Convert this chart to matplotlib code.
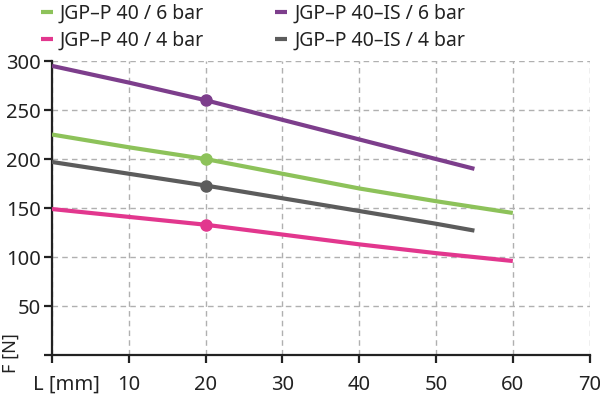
import matplotlib
matplotlib.use("Agg")
import matplotlib.pyplot as plt

x_long = [0, 10, 20, 30, 40, 50, 60]
x_short = [0, 10, 20, 30, 40, 50, 55]

green_6bar = [225, 212, 200, 185, 170, 157, 145]
pink_4bar = [149, 141, 133, 123, 113, 104, 96]
purple_is_6bar = [295, 278, 260, 240, 220, 200, 190]
gray_is_4bar = [197, 185, 173, 160, 147, 134, 127]

marker_x = 20
labels = ["JGP–P 40 / 6 bar", "JGP–P 40 / 4 bar", "JGP–P 40–IS / 6 bar", "JGP–P 40–IS / 4 bar"]
colors = ["#8dc25a", "#e2378e", "#7d3e8c", "#5c5c5c"]

xticks = [0, 10, 20, 30, 40, 50, 60, 70]
xticklabels = ["", "10", "20", "30", "40", "50", "60", "70"]
yticks = [0, 50, 100, 150, 200, 250, 300]
yticklabels = ["", "50", "100", "150", "200", "250", "300"]
x_axis_label = "L [mm]"
y_axis_label = "F [N]"

plt.rcParams['font.family'] = ['Noto Sans', 'DejaVu Sans']

fig = plt.figure(figsize=(6, 4.04), dpi=100)
ax = fig.add_axes([0.0867, 0.121, 0.896, 0.728])

series = [(x_long, green_6bar), (x_long, pink_4bar), (x_short, purple_is_6bar), (x_short, gray_is_4bar)]
handles = []
for (xs, ys), c, lab in zip(series, colors, labels):
    h, = ax.plot(xs, ys, color=c, lw=3, solid_capstyle='butt', solid_joinstyle='round',
                 label=lab, zorder=3)
    handles.append(h)
    ax.plot([marker_x], [ys[xs.index(marker_x)]], 'o', color=c, ms=8, zorder=4)

ax.set_xlim(0, 70)
ax.set_ylim(0, 300)
ax.set_xticks(xticks)
ax.set_xticklabels(xticklabels)
ax.set_yticks(yticks)
ax.set_yticklabels(yticklabels)
ax.grid(True, color='#b0b0b0', linestyle=(0, (4, 3)), lw=1)
ax.set_axisbelow(True)
for s in ['top', 'right']:
    ax.spines[s].set_visible(False)
for s in ['left', 'bottom']:
    ax.spines[s].set_color('#222222')
    ax.spines[s].set_linewidth(1.6)
ax.tick_params(axis='both', labelsize=14.5, length=6, width=1.6, color='#222222', labelcolor='#222222')
ax.tick_params(axis='x', pad=8)
ax.tick_params(axis='y', pad=2)

ax.annotate(x_axis_label, xy=(0, 0), xycoords=('data', 'axes fraction'),
            xytext=(-13.5, -14), textcoords='offset points', ha='left', va='top',
            fontsize=14.5, color='#222222')

fig.text(0.018, 0.125, y_axis_label, rotation=90, fontsize=13, color='#222222', ha='center', va='center')

leg = fig.legend(handles, labels, loc='upper left', bbox_to_anchor=(0.055, 1.011), ncol=2,
                 frameon=False, fontsize=14, handlelength=0.62, handletextpad=0.36,
                 columnspacing=3.65, labelspacing=0.4, borderaxespad=0)
for t in leg.get_texts():
    t.set_color('#222222')

fig.savefig("out.png", dpi=100)
